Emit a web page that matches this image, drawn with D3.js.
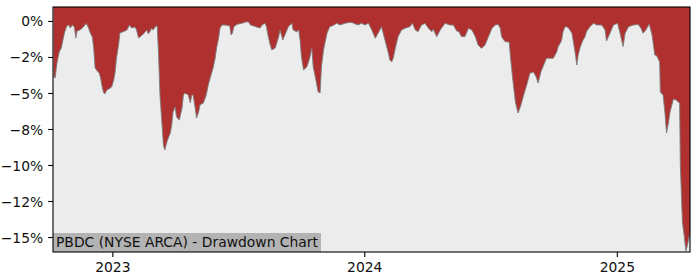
<!DOCTYPE html>
<html>
<head>
<meta charset="utf-8">
<script src="https://cdn.jsdelivr.net/npm/d3@7"></script>
<style>
  body { margin: 0; background: #fff; }
  svg { display: block; font-family: "DejaVu Sans", sans-serif; }
</style>
</head>
<body>
<div id="chart"></div>
<script>
// drawdown from running peak, percent
var dates = [
  "2022-10-08","2022-10-10","2022-10-13","2022-10-16","2022-10-19","2022-10-22","2022-10-24","2022-10-27","2022-10-30",
  "2022-11-01","2022-11-04","2022-11-07","2022-11-09","2022-11-11","2022-11-15","2022-11-20","2022-11-24","2022-11-27","2022-11-30",
  "2022-12-03","2022-12-05","2022-12-07","2022-12-10","2022-12-13","2022-12-15","2022-12-17","2022-12-19","2022-12-21","2022-12-24","2022-12-27","2022-12-31",
  "2023-01-03","2023-01-05","2023-01-07","2023-01-10","2023-01-12","2023-01-17","2023-01-22","2023-01-26","2023-01-29",
  "2023-02-03","2023-02-05","2023-02-08","2023-02-10","2023-02-15","2023-02-20","2023-02-22","2023-02-25","2023-02-27",
  "2023-03-01","2023-03-05","2023-03-07","2023-03-09","2023-03-11","2023-03-14","2023-03-16","2023-03-18","2023-03-21","2023-03-23","2023-03-26","2023-03-28","2023-03-30",
  "2023-04-02","2023-04-04","2023-04-08","2023-04-12","2023-04-14","2023-04-16","2023-04-21","2023-04-24","2023-04-26","2023-04-28",
  "2023-05-01","2023-05-03","2023-05-06","2023-05-08","2023-05-13","2023-05-17","2023-05-20","2023-05-24","2023-05-27","2023-05-30",
  "2023-06-01","2023-06-04","2023-06-06","2023-06-09","2023-06-13","2023-06-20","2023-06-22","2023-06-24","2023-06-26",
  "2023-07-01","2023-07-08","2023-07-12","2023-07-17","2023-07-20","2023-07-24","2023-07-29",
  "2023-08-03","2023-08-06","2023-08-10","2023-08-12","2023-08-15","2023-08-17","2023-08-20","2023-08-25","2023-08-30",
  "2023-09-01","2023-09-05","2023-09-08","2023-09-13","2023-09-18","2023-09-20","2023-09-25","2023-09-28","2023-09-30",
  "2023-10-02","2023-10-05","2023-10-10","2023-10-14","2023-10-17","2023-10-19","2023-10-23","2023-10-26","2023-10-29","2023-10-31",
  "2023-11-03","2023-11-08","2023-11-12","2023-11-17","2023-11-22","2023-11-27",
  "2023-12-04","2023-12-11","2023-12-15","2023-12-19","2023-12-23","2023-12-28",
  "2024-01-02","2024-01-07","2024-01-12","2024-01-17","2024-01-21","2024-01-26","2024-01-31",
  "2024-02-05","2024-02-07","2024-02-10","2024-02-12","2024-02-15","2024-02-19","2024-02-24","2024-02-29",
  "2024-03-07","2024-03-11","2024-03-15","2024-03-19","2024-03-24","2024-03-29",
  "2024-04-03","2024-04-08","2024-04-10","2024-04-15","2024-04-20","2024-04-27",
  "2024-05-04","2024-05-09","2024-05-14","2024-05-17","2024-05-21","2024-05-26","2024-05-31",
  "2024-06-05","2024-06-10","2024-06-14","2024-06-19","2024-06-24","2024-06-29",
  "2024-07-04","2024-07-09","2024-07-13","2024-07-16","2024-07-18","2024-07-23","2024-07-29","2024-07-31",
  "2024-08-03","2024-08-07","2024-08-09","2024-08-11","2024-08-15","2024-08-19","2024-08-23","2024-08-28",
  "2024-09-02","2024-09-06","2024-09-09","2024-09-13","2024-09-17","2024-09-21","2024-09-26",
  "2024-10-01","2024-10-06","2024-10-08","2024-10-11","2024-10-13","2024-10-15","2024-10-18","2024-10-20","2024-10-23","2024-10-25","2024-10-28","2024-10-30",
  "2024-11-01","2024-11-04","2024-11-06","2024-11-09","2024-11-13","2024-11-16","2024-11-18","2024-11-23","2024-11-28",
  "2024-12-03","2024-12-10","2024-12-15","2024-12-17","2024-12-22","2024-12-27",
  "2025-01-02","2025-01-06","2025-01-10","2025-01-13","2025-01-18","2025-01-25",
  "2025-02-01","2025-02-05","2025-02-08","2025-02-12","2025-02-16","2025-02-17","2025-02-21","2025-02-23","2025-02-25","2025-02-28",
  "2025-03-04","2025-03-05","2025-03-09","2025-03-12","2025-03-14","2025-03-17","2025-03-19","2025-03-24","2025-03-28","2025-03-31",
  "2025-04-02","2025-04-03","2025-04-06","2025-04-09","2025-04-11","2025-04-13","2025-04-16","2025-04-17"
];
var drawdown = [
  -3.82,-3.96,-2.85,-2.15,-1.88,-1.18,-0.76,-0.35,-0.28,
  -0.49,-0.28,-0.42,-1.18,-0.69,-0.63,-0.42,-0.17,-0.42,-0.83,
  -1.11,-1.88,-3.26,-3.47,-3.61,-3.96,-4.51,-4.93,-5.07,-4.79,-4.72,-4.58,
  -4.10,-3.54,-2.57,-1.67,-0.83,-0.74,-0.63,-0.28,-0.49,
  -0.42,-0.63,-1.18,-1.11,-0.90,-0.63,-0.90,-0.69,-0.49,
  -0.63,-0.35,-0.35,-2.36,-5.14,-7.22,-8.61,-8.96,-8.40,-8.13,-7.78,-7.22,-6.32,
  -5.97,-6.67,-6.88,-6.04,-5.14,-5.00,-5.14,-5.69,-5.14,-5.14,
  -6.04,-6.74,-6.32,-5.83,-5.69,-5.14,-4.44,-3.75,-3.26,-2.57,
  -1.88,-1.18,-0.49,-0.28,-0.28,-0.33,-0.97,-0.83,-0.40,
  -0.23,-0.16,-0.09,-0.05,-0.28,-0.33,-0.42,
  -0.49,-0.28,-0.16,-0.35,-1.09,-1.53,-2.01,-1.88,-1.09,
  -0.63,-1.32,-0.97,-0.40,-0.16,-0.63,-0.74,-0.63,-1.32,
  -2.48,-3.40,-3.17,-2.57,-1.88,-3.17,-4.10,-4.91,-5.00,-3.17,
  -2.01,-0.85,-0.40,-0.31,-0.16,-0.28,
  -0.16,-0.10,-0.12,-0.21,-0.28,-0.16,
  -0.28,-0.16,-0.63,-1.20,-0.85,-0.40,-1.32,
  -2.24,-2.71,-2.83,-2.57,-1.90,-1.09,-0.63,-0.51,
  -0.40,-0.16,-0.63,-0.74,-0.28,-0.16,
  -0.51,-0.74,-0.56,-1.09,-0.63,-0.16,
  -0.28,-0.28,-0.69,-0.74,-1.09,-1.08,-0.51,
  -0.63,-1.09,-1.67,-1.90,-1.67,-1.09,
  -0.51,-0.28,-0.24,-0.49,-1.09,-1.44,-1.46,-2.59,
  -3.98,-5.63,-6.04,-6.39,-5.83,-5.14,-4.51,-3.63,
  -3.54,-3.87,-4.31,-3.52,-3.06,-2.59,-2.59,
  -2.59,-2.13,-1.78,-1.55,-1.32,-0.74,-0.40,-0.40,-0.49,-0.63,-0.85,-1.44,
  -2.01,-3.06,-2.36,-1.81,-1.32,-1.09,-0.74,-0.40,-0.16,
  -0.28,-0.28,-0.63,-1.39,-0.85,-0.28,
  -0.16,-0.90,-1.78,-0.85,-0.40,-0.28,
  -0.24,-0.51,-0.85,-0.63,-0.28,-0.23,-0.97,-1.67,-2.36,-2.43,
  -2.85,-4.93,-5.14,-6.53,-7.78,-7.01,-6.32,-5.42,-5.49,-5.63,
  -5.69,-10.00,-13.96,-15.07,-15.97,-15.63,-14.93,-14.79
];
var yTicks = [0, -2.5, -5, -7.5, -10, -12.5, -15];
var yTickLabels = ["0%", "\u22122%", "\u22125%", "\u22128%", "\u221210%", "\u221212%", "\u221215%"];
var xTicks = ["2023-01-01", "2024-01-01", "2025-01-01"];
var xTickLabels = ["2023", "2024", "2025"];
var xRange = ["2022-10-07", "2025-04-17"];
var yRange = [-16.04, 0.97];
var title = "PBDC (NYSE ARCA) - Drawdown Chart";

var width = 700, height = 280;
var margin = {top: 7, right: 10, bottom: 28, left: 53};
var w = width - margin.left - margin.right;
var h = height - margin.top - margin.bottom;
var parse = d3.timeParse("%Y-%m-%d");

var data = dates.map(function(d, i){ return {date: parse(d), dd: drawdown[i]}; });

var x = d3.scaleTime().domain(xRange.map(parse)).range([0, w]);
var y = d3.scaleLinear().domain(yRange).range([h, 0]);

var svg = d3.select('#chart')
    .append('svg')
    .attr('width', width)
    .attr('height', height)
    .append('g')
    .attr("transform", "translate(" + margin.left + "," + margin.top + ")");

svg.append('rect')
    .attr('width', w)
    .attr('height', h)
    .attr('fill', '#ececec');

svg.append('clipPath').attr('id', 'clip')
    .append('rect').attr('width', w).attr('height', h);

var area = d3.area()
    .x(function(d){ return x(d.date); })
    .y0(function(){ return y(yRange[1]); })
    .y1(function(d){ return y(d.dd); });

var line = d3.line()
    .x(function(d){ return x(d.date); })
    .y(function(d){ return y(d.dd); });

var plot = svg.append('g').attr('clip-path', 'url(#clip)');

plot.append('path')
    .datum(data)
    .attr('d', area)
    .attr('fill', '#b03030');

plot.append('path')
    .datum(data)
    .attr('d', line)
    .attr('fill', 'none')
    .attr('stroke', '#7d7d7d')
    .attr('stroke-width', 0.9);

// title label in the lower left corner
var fs = 13.89;
svg.append('rect')
    .attr('x', 0)
    .attr('y', h - 19)
    .attr('width', 268)
    .attr('height', 19)
    .attr('fill', '#b3b3b3');

svg.append('text')
    .attr('x', 3)
    .attr('y', h - 5)
    .style('font-size', fs + 'px')
    .attr('fill', '#111')
    .text(title);

var yAxis = d3.axisLeft(y)
    .tickValues(yTicks)
    .tickFormat(function(d, i){ return yTickLabels[i]; })
    .tickSize(4.9)
    .tickPadding(4.9);

var xAxis = d3.axisBottom(x)
    .tickValues(xTicks.map(parse))
    .tickFormat(function(d, i){ return xTickLabels[i]; })
    .tickSize(4.9)
    .tickPadding(4.9);

var gy = svg.append('g').call(yAxis);
var gx = svg.append('g').attr('transform', 'translate(0,' + h + ')').call(xAxis);

[gx, gy].forEach(function(g){
    g.select('.domain').remove();
    g.selectAll('line').attr('stroke', '#000').attr('stroke-width', 1.1);
    g.selectAll('text')
        .attr('fill', '#111')
        .style('font-size', fs + 'px')
        .style('font-family', '"DejaVu Sans", sans-serif');
});
gy.selectAll('text').attr('dy', '0.36em');
gx.selectAll('text').attr('dy', '0.72em');

svg.append('rect')
    .attr('width', w)
    .attr('height', h)
    .attr('fill', 'none')
    .attr('stroke', '#000')
    .attr('stroke-width', 1.1);
</script>
</body>
</html>
